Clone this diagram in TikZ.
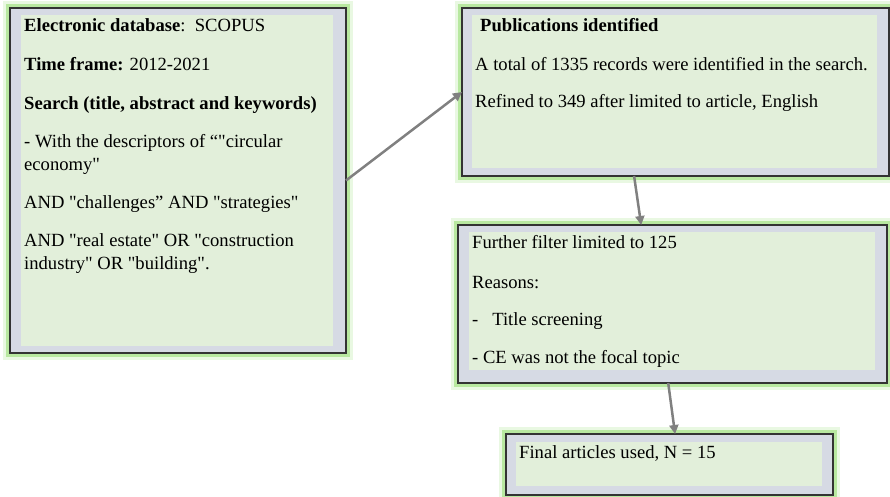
\documentclass[tikz,border=0pt]{standalone}
\usepackage{fontspec}
\setmainfont{Liberation Serif}[Ligatures=TeXOff]
\usetikzlibrary{arrows.meta,calc}
\definecolor{framegray}{HTML}{D6DAE4}
\definecolor{innergreen}{HTML}{E2EFDA}
\definecolor{glowgreen}{HTML}{B8E8A0}
\definecolor{edge}{HTML}{333333}
\definecolor{arrowgray}{HTML}{808080}
\begin{document}
\begin{tikzpicture}[x=1pt,y=-1pt,
  outerbox/.style={draw=edge,line width=1.2pt,fill=framegray,inner sep=0,outer sep=0,
    preaction={draw=glowgreen!50,line width=14pt,opacity=0.6},
    preaction={draw=glowgreen,line width=8pt}},
  innerbox/.style={fill=innergreen,draw=none,inner sep=0,outer sep=0},
  txt/.style={anchor=base west,inner sep=0,font=\fontsize{18.6}{22}\selectfont},
  conn/.style={draw=arrowgray,line width=2.5pt,-{Triangle[length=9pt,width=9pt]}}]
\useasboundingbox (0,0) rectangle (890,497);
% boxes
\node[outerbox,minimum width=336pt,minimum height=345pt] (A) at (178,180.5) {};
\node[innerbox,minimum width=312pt,minimum height=331pt] (Ai) at (177,180.5) {};
\node[outerbox,minimum width=427pt,minimum height=168pt] (B) at (675.5,92) {};
\node[innerbox,minimum width=405pt,minimum height=153pt] (Bi) at (674.5,91.5) {};
\node[outerbox,minimum width=429pt,minimum height=158pt] (C) at (672.5,304) {};
\node[innerbox,minimum width=406pt,minimum height=138pt] (Ci) at (672,301) {};
\node[outerbox,minimum width=327pt,minimum height=61pt] (D) at (669.5,464.5) {};
\node[innerbox,minimum width=306pt,minimum height=44pt] (Di) at (669,464) {};
% texts box A
\node[txt] (a1) at (24,32) {\textbf{Electronic database}:\ \ SCOPUS};
\node[txt] (a2) at (24,71) {\textbf{Time frame:} 2012-2021};
\node[txt] (a3) at (24,110) {\textbf{Search (title, abstract and keywords)}};
\node[txt] (a4) at (24,148) {- With the descriptors of “"circular};
\node[txt] (a5) at (24,170) {economy"};
\node[txt] (a6) at (24,208) {AND "challenges” AND "strategies"};
\node[txt] (a7) at (24,246) {AND "real estate" OR "construction};
\node[txt] (a8) at (24,269) {industry" OR "building".};
% texts box B
\node[txt] (b1) at (480,32) {\textbf{Publications identified}};
\node[txt] (b2) at (475,71) {A total of 1335 records were identified in the search.};
\node[txt] (b3) at (475,108) {Refined to 349 after limited to article, English};
% texts box C
\node[txt] (c1) at (472,248) {Further filter limited to 125};
\node[txt] (c2) at (472,288) {Reasons:};
\node[txt] (c3) at (472,325) {-\ \ \ Title screening};
\node[txt] (c4) at (472,363) {- CE was not the focal topic};
% text box D
\node[txt] (d1) at (519,458) {Final articles used, N = 15};
% connectors
\draw[conn] (A.east) -- (B.west);
\draw[conn] ($(B.south west)!0.403!(B.south east)$) -- ($(C.north west)!0.427!(C.north east)$);
\draw[conn] ($(C.south west)!0.49!(C.south east)$) -- ($(D.north west)!0.517!(D.north east)$);
\end{tikzpicture}
\end{document}
